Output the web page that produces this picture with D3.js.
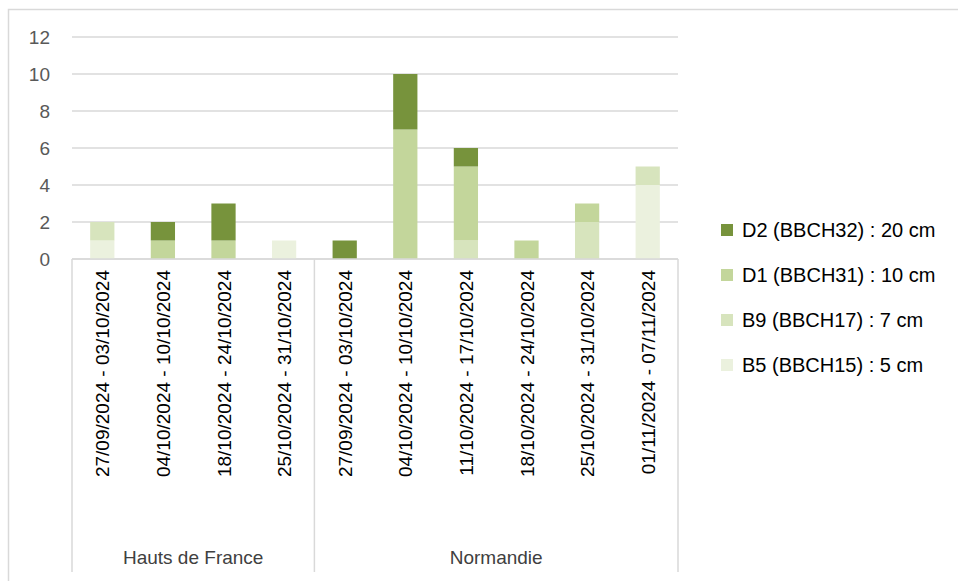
<!DOCTYPE html>
<html>
<head>
<meta charset="utf-8">
<script src="https://cdn.jsdelivr.net/npm/d3@7"></script>
<style>
  body { margin: 0; background: #fff; }
  text { font-family: "Liberation Sans", Arial, sans-serif; }
</style>
</head>
<body>
<div id="chart"></div>
<script>
// data
var regions = ['Hauts de France', 'Normandie'];
var periods = [
	['27/09/2024 - 03/10/2024', '04/10/2024 - 10/10/2024', '18/10/2024 - 24/10/2024', '25/10/2024 - 31/10/2024'],
	['27/09/2024 - 03/10/2024', '04/10/2024 - 10/10/2024', '11/10/2024 - 17/10/2024', '18/10/2024 - 24/10/2024', '25/10/2024 - 31/10/2024', '01/11/2024 - 07/11/2024']
];
var stages = ['B5 (BBCH15) : 5 cm', 'B9 (BBCH17) : 7 cm', 'D1 (BBCH31) : 10 cm', 'D2 (BBCH32) : 20 cm'];
var b5 = [1, 0, 0, 1, 0, 0, 0, 0, 0, 4];
var b9 = [1, 0, 0, 0, 0, 0, 1, 0, 2, 1];
var d1 = [0, 1, 1, 0, 0, 7, 4, 1, 1, 0];
var d2 = [0, 1, 2, 0, 1, 3, 1, 0, 0, 0];
var yTicks = [0, 2, 4, 6, 8, 10, 12];

//colors
var colors = ['#ebf1de', '#d7e4bd', '#c3d69b', '#77933c'];
var gridColor = '#d9d9d9';

var width = 958, height = 581;
// plot edges (avoid the name "top", it is window.top)
var plotLeft = 72, plotRight = 678, plotTop = 37, plotBottom = 259;
var catBottom = 572;

// flat list of categories with their region
var cats = [];
periods.forEach(function(p, g) {
	p.forEach(function(label, i) {
		cats.push({ key: g + '_' + i, label: label, region: g });
	});
});

var rows = cats.map(function(c, i) {
	return { key: c.key, s0: b5[i], s1: b9[i], s2: d1[i], s3: d2[i] };
});

var svg = d3.select('#chart')
	.append('svg')
	.attr('width', width)
	.attr('height', height);

// outer chart border
svg.append('rect')
	.attr('x', 8.5).attr('y', 9.5)
	.attr('width', 980).attr('height', 620)
	.style('fill', 'none')
	.style('stroke', gridColor)
	.style('stroke-width', 1.5);

var x = d3.scaleBand()
	.domain(cats.map(function(c) { return c.key; }))
	.range([plotLeft, plotRight])
	.paddingInner(0.6)
	.paddingOuter(0.3);

var y = d3.scaleLinear()
	.domain([0, 12])
	.range([plotBottom, plotTop]);

// gridlines
svg.append('g')
	.selectAll('line')
	.data(yTicks)
	.enter().append('line')
	.attr('x1', plotLeft).attr('x2', plotRight)
	.attr('y1', function(d) { return y(d); })
	.attr('y2', function(d) { return y(d); })
	.style('stroke', gridColor)
	.style('stroke-width', 1.5);

// y tick labels
svg.append('g')
	.selectAll('text')
	.data(yTicks)
	.enter().append('text')
	.attr('x', 50)
	.attr('y', function(d) { return y(d); })
	.attr('dy', '0.36em')
	.attr('text-anchor', 'end')
	.style('font-size', '19px')
	.style('fill', '#595959')
	.text(function(d) { return d; });

// stacked bars
var stack = d3.stack().keys(['s0', 's1', 's2', 's3']);
var series = stack(rows);

svg.append('g')
	.selectAll('g')
	.data(series)
	.enter().append('g')
	.style('fill', function(d, i) { return colors[i]; })
	.selectAll('rect')
	.data(function(d) { return d.filter(function(p) { return p[1] > p[0]; }); })
	.enter().append('rect')
	.attr('x', function(d) { return x(d.data.key); })
	.attr('width', x.bandwidth())
	.attr('y', function(d) { return y(d[1]); })
	.attr('height', function(d) { return y(d[0]) - y(d[1]); });

// category axis with region separators
var step = x.step();
var bounds = [plotLeft, plotLeft + periods[0].length * step, plotRight];
var axis = svg.append('g');
axis.append('line')
	.attr('x1', plotLeft).attr('x2', plotRight)
	.attr('y1', plotBottom).attr('y2', plotBottom)
	.style('stroke', gridColor)
	.style('stroke-width', 1.5);
axis.selectAll('.sep')
	.data(bounds)
	.enter().append('line')
	.attr('class', 'sep')
	.attr('x1', function(d) { return d; })
	.attr('x2', function(d) { return d; })
	.attr('y1', plotBottom).attr('y2', catBottom)
	.style('stroke', gridColor)
	.style('stroke-width', 1.5);

// rotated period labels
axis.selectAll('.cat')
	.data(cats)
	.enter().append('text')
	.attr('class', 'cat')
	.attr('transform', function(d) {
		return 'translate(' + (x(d.key) + x.bandwidth() / 2 + 7) + ',' + 270 + ') rotate(-90)';
	})
	.attr('text-anchor', 'end')
	.style('font-size', '19px')
	.style('fill', '#000')
	.text(function(d) { return d.label; });

// region labels
axis.selectAll('.region')
	.data(regions)
	.enter().append('text')
	.attr('class', 'region')
	.attr('x', function(d, i) { return (bounds[i] + bounds[i + 1]) / 2; })
	.attr('y', 564)
	.attr('text-anchor', 'middle')
	.style('font-size', '19px')
	.style('fill', '#404040')
	.text(function(d) { return d; });

// legend, top entry is the last stage
var legend = svg.append('g')
	.selectAll('g')
	.data(stages.slice().reverse())
	.enter().append('g')
	.attr('transform', function(d, i) { return 'translate(721,' + (230 + i * 45) + ')'; });

legend.append('rect')
	.attr('x', 0).attr('y', -6)
	.attr('width', 12).attr('height', 12)
	.style('fill', function(d, i) { return colors[3 - i]; });

legend.append('text')
	.attr('x', 21)
	.attr('dy', '0.36em')
	.style('font-size', '20px')
	.style('fill', '#000')
	.text(function(d) { return d; });
</script>
</body>
</html>
